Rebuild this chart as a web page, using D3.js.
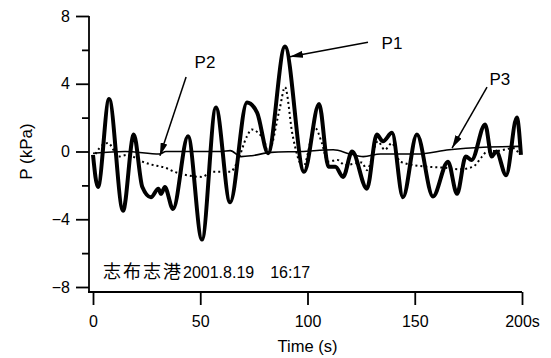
<!DOCTYPE html>
<meta charset="utf-8">
<style>
    body { margin: 0; background: #fff; }
    svg { font-family: "Liberation Sans", Arial, sans-serif; }
    .axis path, .axis line { stroke: #000; stroke-width: 1.8px; }
    .axis text { font-size: 16px; fill: #000; }
</style>
<body>
<script src="https://d3js.org/d3.v7.min.js"></script>
<script>
    // time (s) / pressure (kPa) pairs
    var p1T = [0, 2.3, 7.5, 14, 19, 23, 27, 30.5, 31.7, 33.5, 37.3, 44.3, 50.8, 57.3, 63.9, 71.8, 76.5, 81.6, 89.5,
               98.4, 105.4, 109.8, 113, 116.6, 120.8, 127.7, 132.3, 135.2, 139.4, 144.5, 151, 158.5, 165.5, 169.7,
               173.8, 176.5, 182.8, 185.9, 188, 192.6, 197.6, 199.5];
    var p1V = [-0.2, -2.1, 3.1, -3.5, 1.0, -2.1, -2.7, -2.2, -2.5, -2.1, -3.4, 0.9, -5.2, 2.6, -3.0, 2.9, 2.3, -0.1, 6.2,
               -1.2, 2.8, -0.9, -0.9, -1.5, 0.0, -2.2, 1.0, 0.6, 1.1, -2.7, 1.0, -2.65, -0.6, -2.5,
               -0.3, -0.5, 1.6, -0.3, 0.0, -1.4, 2.0, -0.2];

    var p2T = [0, 3, 7, 12, 16, 23, 28, 33.5, 38, 46, 51, 55, 64, 67, 71.8, 74, 77, 80.2, 81.6, 87, 89.5, 93, 98,
               103.5, 106.7, 109.5, 114, 117.4, 125.4, 127.7, 132.8, 136, 139.4, 143.1, 155.7, 163.2, 171, 177.2,
               181.4, 183.7, 189.7, 195.8, 198.5];
    var p2V = [-0.4, 0.2, 0.5, -0.3, -0.2, -0.6, -0.8, -0.95, -1.2, -1.45, -1.5, -1.2, -1.2, -0.7, 0.9, 1.3, 1.1, 0.5, -0.1,
               2.5, 3.8, 1.0, -0.9, 1.4, 0.5, -0.6, -0.5, -0.8, -0.65, -1.1, 0.6, 0.1, 0.5, -0.6, -0.9, -0.95, -1.05, -0.9,
               -0.3, 0.0, 0.05, 0.2, -0.1];

    var p3T = [0, 15, 31, 34, 60, 64, 69, 74, 83, 97, 112, 120, 126, 134, 151, 166, 182, 199];
    var p3V = [-0.1, 0.0, -0.15, 0.0, 0.0, 0.05, -0.3, -0.25, -0.05, 0.0, 0.1, -0.15, -0.3, -0.15, -0.15, 0.1, 0.25, 0.3];

    var yMajor = [-8, -4, 0, 4, 8];
    var yMinor = [-6, -2, 2, 6];
    var xTicks = [0, 50, 100, 150, 200];
    var xTickLabels = ["0", "50", "100", "150", "200s"];

    // label text, label position, arrow start, arrow tip (data units)
    var labels = ["P1", "P2", "P3"];
    var labelPos = [[139.4, 6.4], [52.2, 5.3], [189.7, 4.25]];
    var arrowFrom = [[128.2, 6.45], [43.4, 4.4], [183.7, 3.8]];
    var arrowTo = [[91.8, 5.6], [31.2, -0.25], [167.4, 0.2]];

    var width = 551, height = 358;
    var svg = d3.select('body').append('svg')
        .attr('width', width)
        .attr('height', height);

    var x = d3.scaleLinear().domain([0, 200]).range([93, 522]);
    var y = d3.scaleLinear().domain([-8, 8]).range([287, 16]);

    // axes
    svg.append('g').attr('class', 'axis')
        .attr('transform', 'translate(89,0)')
        .call(d3.axisLeft(y).tickValues(yMajor).tickSize(13).tickSizeOuter(0).tickPadding(6))
        .select('.domain').attr('d', 'M0,' + y(8) + 'V292');
    svg.append('g').attr('class', 'axis')
        .attr('transform', 'translate(89,0)')
        .call(d3.axisLeft(y).tickValues(yMinor).tickSize(7).tickFormat(''))
        .select('.domain').remove();
    var xa = svg.append('g').attr('class', 'axis')
        .attr('transform', 'translate(0,292)')
        .call(d3.axisBottom(x).tickValues(xTicks).tickSize(13).tickSizeOuter(0).tickPadding(8)
            .tickFormat(function (d, i) { return xTickLabels[i]; }));
    xa.select('.domain').attr('d', 'M88,0H' + x(200));
    xa.selectAll('text').attr('dy', '0.85em');

    svg.append('text')
        .attr('transform', 'translate(26,' + y(0) + ') rotate(-90)')
        .attr('text-anchor', 'middle')
        .attr('dy', '0.35em')
        .style('font-size', '17px')
        .text('P (kPa)');
    svg.append('text')
        .attr('x', x(100)).attr('y', 352)
        .attr('text-anchor', 'middle')
        .style('font-size', '16.5px')
        .text('Time (s)');

    var note = svg.append('text')
        .attr('x', 103).attr('y', 278)
        .style('font-size', '16px');
    note.append('tspan')
        .style('font-family', '"Noto Sans CJK JP", sans-serif')
        .style('font-size', '18px')
        .style('letter-spacing', '2px')
        .text('志布志港');
    note.append('tspan').text('2001.8.19');
    note.append('tspan').attr('dx', 16).text('16:17');

    function series(ts, vs) {
        return ts.map(function (t, i) { return [t, vs[i]]; });
    }
    var line = d3.line()
        .x(function (d) { return x(d[0]); })
        .y(function (d) { return y(d[1]); })
        .curve(d3.curveMonotoneX);

    svg.append('path').datum(series(p3T, p3V))
        .attr('d', line).attr('fill', 'none')
        .attr('stroke', '#000').attr('stroke-width', 1.6);
    svg.append('path').datum(series(p2T, p2V))
        .attr('d', line).attr('fill', 'none')
        .attr('stroke', '#000').attr('stroke-width', 2)
        .attr('stroke-dasharray', '2,3');
    svg.append('path').datum(series(p1T, p1V))
        .attr('d', line).attr('fill', 'none')
        .attr('stroke', '#000').attr('stroke-width', 4)
        .attr('stroke-linejoin', 'round');

    svg.append('defs').append('marker')
        .attr('id', 'arr')
        .attr('viewBox', '0 0 13 7')
        .attr('refX', 13).attr('refY', 3.5)
        .attr('markerWidth', 13).attr('markerHeight', 7)
        .attr('markerUnits', 'userSpaceOnUse')
        .attr('orient', 'auto')
        .append('path').attr('d', 'M0,0L13,3.5L0,7Z').attr('fill', '#000');

    labels.forEach(function (lab, i) {
        svg.append('line')
            .attr('x1', x(arrowFrom[i][0])).attr('y1', y(arrowFrom[i][1]))
            .attr('x2', x(arrowTo[i][0])).attr('y2', y(arrowTo[i][1]))
            .attr('stroke', '#000').attr('stroke-width', 1.5)
            .attr('marker-end', 'url(#arr)');
        svg.append('text')
            .attr('x', x(labelPos[i][0])).attr('y', y(labelPos[i][1]))
            .attr('text-anchor', 'middle').attr('dy', '0.35em')
            .style('font-size', '17px')
            .text(lab);
    });
</script>
</body>
